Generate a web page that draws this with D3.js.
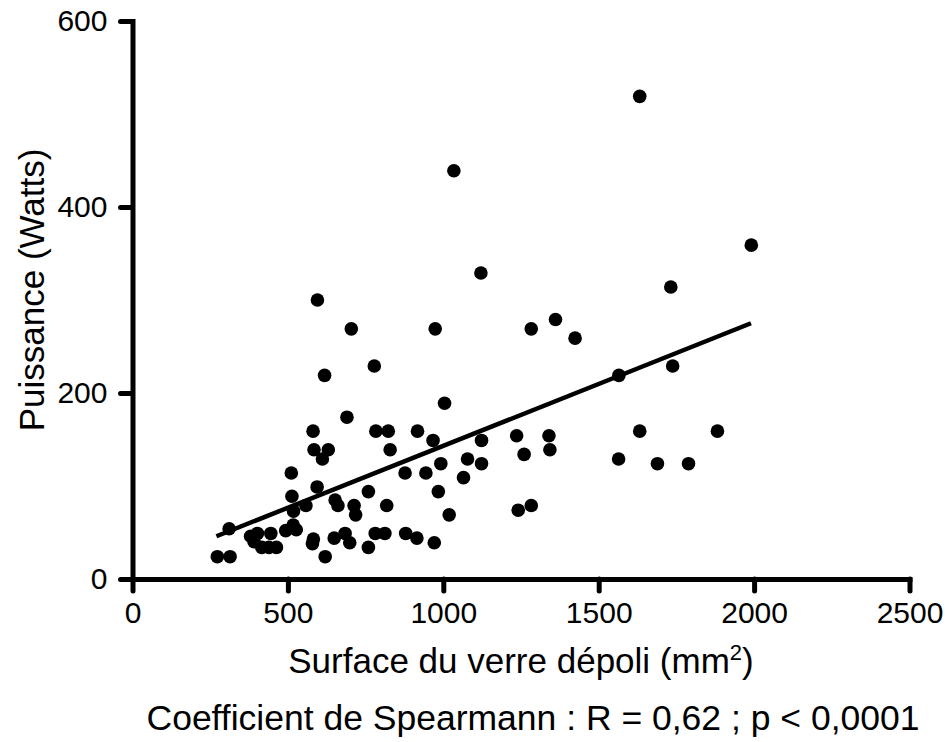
<!DOCTYPE html>
<html>
<head>
<meta charset="utf-8">
<script src="https://cdn.jsdelivr.net/npm/d3@7"></script>
<style>
  html, body { margin: 0; padding: 0; background: #fff; }
  svg { display: block; }
  text { font-family: "Liberation Sans", Arial, Helvetica, sans-serif; fill: #000; }
</style>
</head>
<body>
<svg id="chart" width="949" height="742"></svg>
<script>
// ---- Data ----
const surface = [1632, 1991, 1732, 1034, 1121, 595, 704, 974, 1283, 1361, 1424, 778, 1738, 618, 1565, 1004, 690,
  581, 783, 823, 917, 1632, 1882, 967, 1123, 1236, 1340, 584, 630, 829, 1343, 1260, 611, 1078, 1564,
  992, 1123, 1689, 1789, 511, 877, 944, 1065, 594, 759, 984, 513, 652, 661, 713, 818, 558, 1283,
  518, 718, 1019, 1241, 311, 273, 314, 380, 402, 391, 416, 439, 463, 445, 493, 517, 527,
  582, 579, 620, 649, 684, 699, 759, 781, 812, 879, 915, 971];
const puissance = [519, 359, 314, 439, 329, 300, 269, 269, 269, 279, 259, 229, 229, 219, 219, 189, 174,
  159, 159, 159, 159, 159, 159, 149, 149, 154, 154, 139, 139, 139, 139, 134, 129, 129, 129,
  124, 124, 124, 124, 114, 114, 114, 109, 99, 94, 94, 89, 85, 79, 79, 79, 79, 79,
  73, 69, 69, 74, 54, 24, 24, 46, 49, 40, 34, 34, 34, 49, 52, 58, 53,
  43, 38, 24, 44, 49, 39, 34, 49, 49, 49, 44, 39];
const fitX = [270, 1990];
const fitY = [46, 275];
const xTicks = [0, 500, 1000, 1500, 2000, 2500];
const yTicks = [0, 200, 400, 600];
const xTitle = "Surface du verre dépoli (mm";
const xTitleSup = "2";
const yTitle = "Puissance (Watts)";
const footnote = "Coefficient de Spearmann : R = 0,62 ; p < 0,0001";

// ---- Drawing ----
const svg = d3.select("#chart");
const x = d3.scaleLinear().domain([0, 2500]).range([132.5, 909.5]);
const y = d3.scaleLinear().domain([0, 600]).range([579, 21]);

const points = surface.map((s, i) => ({ s, p: puissance[i] }));

// regression line
const fit = fitX.map((v, i) => [v, fitY[i]]);
svg.append("path")
  .datum(fit)
  .attr("d", d3.line().x(d => x(d[0])).y(d => y(d[1])))
  .attr("fill", "none")
  .attr("stroke", "#000")
  .attr("stroke-width", 4.5);

// points
svg.append("g").selectAll("circle")
  .data(points)
  .join("circle")
  .attr("cx", d => x(d.s))
  .attr("cy", d => y(d.p))
  .attr("r", 6.8)
  .attr("fill", "#000");

// axes
const xAxis = svg.append("g")
  .attr("transform", `translate(0,${y(0)})`)
  .call(d3.axisBottom(x).tickValues(xTicks).tickFormat(d3.format("d")).tickSize(12).tickSizeOuter(0).tickPadding(11));
const yAxis = svg.append("g")
  .attr("transform", `translate(${x(0)},0)`)
  .call(d3.axisLeft(y).tickValues(yTicks).tickFormat(d3.format("d")).tickSize(12).tickSizeOuter(0).tickPadding(13));

[xAxis, yAxis].forEach(g => {
  g.select(".domain").attr("stroke", "#000").attr("stroke-width", 5).attr("stroke-linecap", "square");
  g.selectAll(".tick line").attr("stroke", "#000").attr("stroke-width", 5).attr("stroke-linecap", "round");
  g.selectAll(".tick text").attr("font-size", 30).attr("font-family", "Liberation Sans, Arial, sans-serif").attr("fill", "#000");
});

// x title
const xt = svg.append("text")
  .attr("x", (x(0) + x(2500)) / 2)
  .attr("y", 673)
  .attr("text-anchor", "middle")
  .attr("font-size", 35);
xt.append("tspan").text(xTitle);
xt.append("tspan").text(xTitleSup).attr("font-size", 22).attr("dy", -13);
xt.append("tspan").text(")").attr("dy", 13);

// y title
svg.append("text")
  .attr("transform", `translate(44,${290}) rotate(-90)`)
  .attr("text-anchor", "middle")
  .attr("font-size", 35)
  .text(yTitle);

// footnote
svg.append("text")
  .attr("x", 533)
  .attr("y", 730)
  .attr("text-anchor", "middle")
  .attr("font-size", 35.5)
  .text(footnote);
</script>
</body>
</html>
